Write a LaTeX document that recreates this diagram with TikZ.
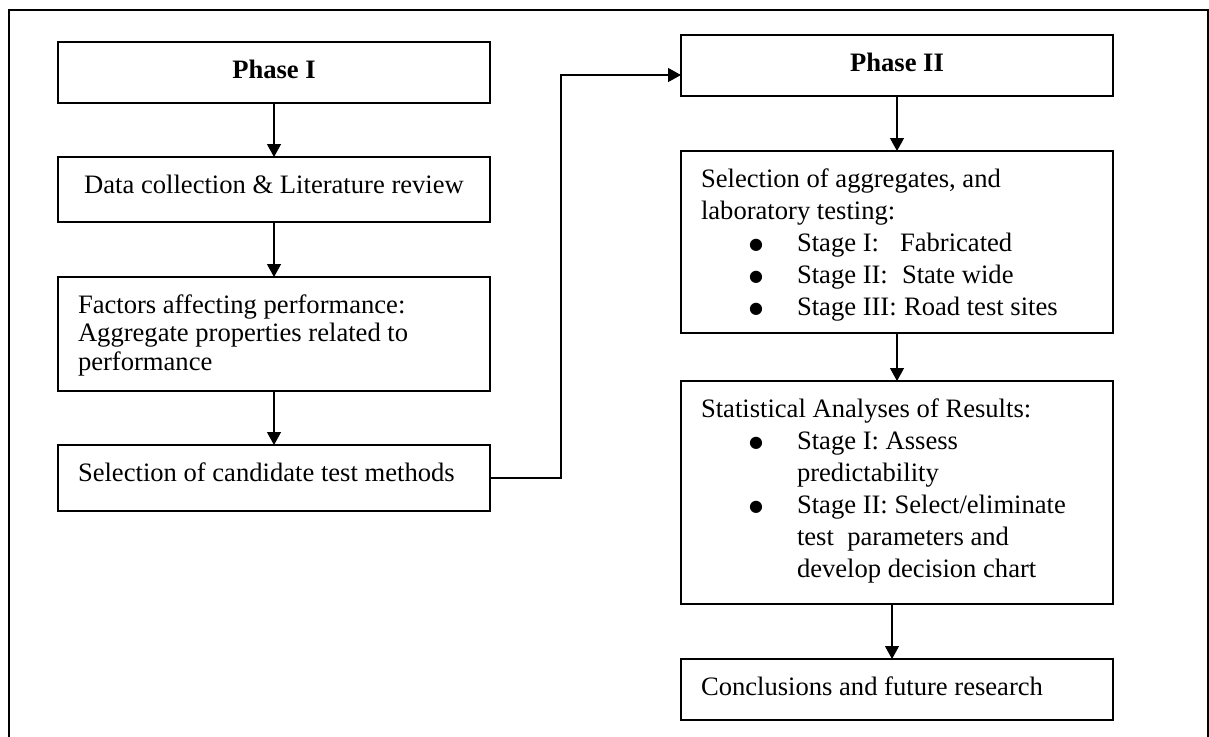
\documentclass[tikz,border=0pt]{standalone}
\usepackage{fontspec}
\setmainfont{Liberation Serif}
\newfontfamily\dvsans{DejaVu Sans}
\usetikzlibrary{arrows.meta}
\newcommand{\bx}[3]{\parbox[c][#1][t]{216pt}{\fontsize{13.3pt}{#2}\selectfont\setlength{\parindent}{0pt}\setlength{\parskip}{0pt}#3}}
\newcommand{\lft}{\raggedright\setlength{\leftskip}{10pt}\rule{0pt}{18pt}}
\newcommand{\ctr}{\centering\rule{0pt}{18pt}}
\newcommand{\bigbul}{\raisebox{0.6pt}{\dvsans\fontsize{8pt}{8pt}\selectfont ●}}
\newcommand{\bul}{\hspace*{24pt}\makebox[24pt][l]{\bigbul}}
\newcommand{\cont}{\hspace*{48pt}}
\begin{document}
\begin{tikzpicture}[x=0.5pt,y=-0.5pt,
  box/.style={draw,line width=0.8pt,inner sep=0pt,outer sep=0pt},
  arr/.style={line width=0.6pt,-{Triangle[width=7pt,length=6.5pt]}},
  frame/.style={line width=0.7pt}]
\useasboundingbox (0,0) rectangle (1209,736);
\clip (0,0) rectangle (1209,736);
\draw[frame] (9,770) -- (9,10) -- (1208,10) -- (1208,770);
% left column
\node[box] (p1) at (274,72.5) {\bx{30.5pt}{14.25pt}{\ctr\bfseries Phase I}};
\node[box] (dc) at (274,189.5) {\bx{32.5pt}{14.25pt}{\ctr Data collection \& Literature review}};
\node[box] (fa) at (274,334) {\bx{57pt}{14.25pt}{\lft Factors affecting performance:\\
Aggregate properties related to\\
performance}};
\node[box] (sel) at (274,478) {\bx{33pt}{14.25pt}{\lft Selection of candidate test methods}};
% right column
\node[box] (p2) at (897,65.5) {\bx{30.5pt}{16pt}{\ctr\bfseries Phase II}};
\node[box] (agg) at (897,242) {\bx{91pt}{16pt}{\lft Selection of aggregates, and\\
laboratory testing:\\
\bul\makebox[51.5pt][l]{Stage I:}Fabricated\\
\bul\makebox[52.5pt][l]{Stage II:}State wide\\
\bul\makebox[53.5pt][l]{Stage III:}Road test sites}};
\node[box] (st) at (897,492.5) {\bx{111.5pt}{16pt}{\lft Statistical Analyses of Results:\\
\bul Stage I: Assess\\
\cont predictability\\
\bul Stage II: Select/eliminate\\
\cont test\ \ parameters and\\
\cont develop decision chart}};
\node[box] (co) at (897,689.5) {\bx{30.5pt}{16pt}{\lft Conclusions and future research}};
% connectors
\draw[arr] (p1.south) -- (dc.north);
\draw[arr] (dc.south) -- (fa.north);
\draw[arr] (fa.south) -- (sel.north);
\draw[arr] (sel.east) -- ++(35.5pt,0) |- ([yshift=-4.75pt]p2.west);
\draw[arr] (p2.south) -- (agg.north);
\draw[arr] (agg.south) -- (st.north);
\draw[arr] ([xshift=-2.5pt]st.south) -- ([xshift=-2.5pt]co.north);
\end{tikzpicture}
\end{document}
